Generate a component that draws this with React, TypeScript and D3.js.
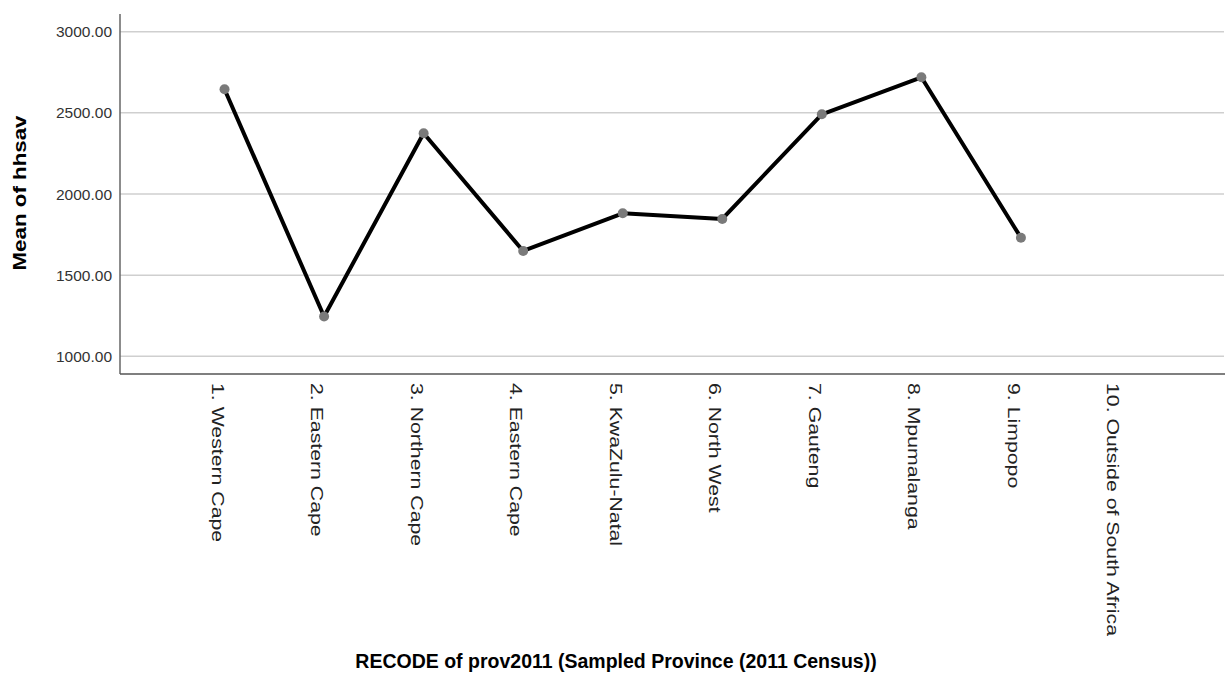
import React from "react";
import * as d3 from "d3";

const categories: string[] = [
  "1. Western Cape",
  "2. Eastern Cape",
  "3. Northern Cape",
  "4. Eastern Cape",
  "5. KwaZulu-Natal",
  "6. North West",
  "7. Gauteng",
  "8. Mpumalanga",
  "9. Limpopo",
  "10. Outside of South Africa",
];

const meanValues: (number | null)[] = [2645, 1245, 2374, 1649, 1881, 1846, 2491, 2719, 1731, null];

const yTicks: number[] = [1000, 1500, 2000, 2500, 3000];

const yTitle = "Mean of hhsav";
const xTitle = "RECODE of prov2011 (Sampled Province (2011 Census))";

const W = 1232;
const H = 684;
const left = 120;
const right = 1225;
const top = 14;
const bottom = 374;

export default function App() {
  const x = d3.scalePoint<string>().domain(categories).range([left, right]).padding(1.05);
  const y = d3.scaleLinear().domain([891, 3109]).range([bottom, top]);

  const pts = categories
    .map((c, i) => ({ c, v: meanValues[i] }))
    .filter((d) => d.v !== null) as { c: string; v: number }[];

  const line = d3
    .line<{ c: string; v: number }>()
    .x((d) => x(d.c) as number)
    .y((d) => y(d.v));

  const font = "'Liberation Sans', Arial, sans-serif";

  return (
    <svg
      width={W}
      height={H}
      style={{ position: "absolute", left: 0, top: 0, background: "#fff" }}
      fontFamily={font}
    >
      <rect x={0} y={0} width={W} height={H} fill="#fff" />
      {/* gridlines */}
      {yTicks.map((t) => (
        <line key={t} x1={left} x2={right - 1} y1={y(t)} y2={y(t)} stroke="#cfcfcf" strokeWidth={1.5} />
      ))}
      {/* y tick labels */}
      {yTicks.map((t) => (
        <text
          key={"l" + t}
          x={112}
          y={y(t)}
          textAnchor="end"
          dominantBaseline="central"
          fontSize={15.5}
          fill="#333"
        >
          {t.toFixed(2)}
        </text>
      ))}
      {/* axes */}
      <line x1={left} x2={left} y1={top} y2={bottom} stroke="#666" strokeWidth={1.5} />
      <line x1={left} x2={right} y1={bottom} y2={bottom} stroke="#555" strokeWidth={1.5} />

      {/* line */}
      <path d={line(pts) || ""} fill="none" stroke="#000" strokeWidth={4} strokeLinejoin="round" />
      {pts.map((d) => (
        <circle key={d.c} cx={x(d.c)} cy={y(d.v)} r={5} fill="#7a7a7a" />
      ))}

      {/* x tick labels */}
      {categories.map((c) => (
        <text
          key={c}
          transform={`translate(${(x(c) as number) - 13},383) rotate(90) scale(1.33,1)`}
          fontSize={16}
          fill="#222"
          textAnchor="start"
        >
          {c}
        </text>
      ))}

      {/* y title */}
      <text
        transform={`translate(26,193) rotate(-90) scale(1.24,1)`}
        textAnchor="middle"
        fontSize={18}
        fontWeight="bold"
        fill="#000"
      >
        {yTitle}
      </text>

      {/* x title */}
      <text x={616} y={668} textAnchor="middle" fontSize={19.5} fontWeight="bold" fill="#000">
        {xTitle}
      </text>
    </svg>
  );
}
